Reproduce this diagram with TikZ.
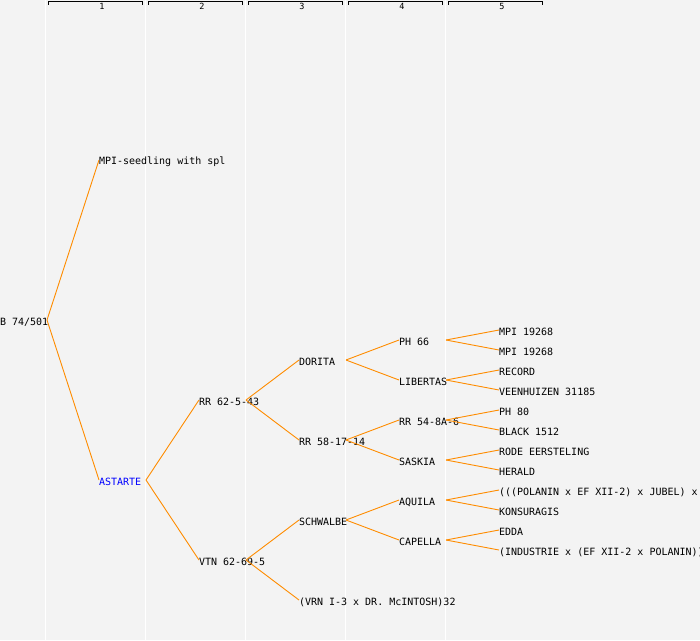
\documentclass[tikz,border=0pt]{standalone}
\usepackage{fontspec}
\setmonofont{DejaVu Sans Mono}
\definecolor{bgc}{HTML}{F3F3F3}
\definecolor{edgec}{HTML}{FF8C00}
\definecolor{bluec}{HTML}{0000FF}
\tikzset{
  lbl/.style={anchor=west, inner sep=0pt, outer sep=0pt, font=\ttfamily\fontsize{10}{12}\selectfont, text=black},
  bluelbl/.style={text=bluec},
  edge/.style={draw=edgec, line width=0.9pt},
  colline/.style={draw=white, line width=1pt},
  bracket/.style={draw=black, line width=1pt},
  colnum/.style={inner sep=0pt, font=\ttfamily\fontsize{8.5}{9}\selectfont}
}
% \pn[style]{name}{text x}{line y}{text}
\newcommand{\pn}[5][]{%
  \node[lbl,#1] (#2) at (#3,#4+2) {#5};
  \coordinate (#2-o) at (#3+47,#4);
  \coordinate (#2-i) at (#3,#4);
}
\newcommand{\lk}[2]{\draw[edge] (#1-o) -- (#2-i);}
\begin{document}
\begin{tikzpicture}[x=1pt,y=-1pt]
\useasboundingbox (0,0) rectangle (700,640);
\fill[bgc] (0,0) rectangle (700,640);
\clip (0,0) rectangle (700,640);
\foreach \k in {0,...,4} {
  \draw[colline] (45+100*\k,0) -- (45+100*\k,640);
  \draw[bracket] (48+100*\k,4.5) -- (48+100*\k,1.5) -- (142+100*\k,1.5) -- (142+100*\k,4.5);
}
\foreach \k/\t in {0/1,1/2,2/3,3/4,4/5} {
  \node[colnum] (h\t) at (102+100*\k,6.8) {\t};
}
% column 0
\pn{b}{0}{320}{B 74/501}
% column 1
\pn{mpis}{99}{160}{MPI-seedling with spl}
\pn[bluelbl]{ast}{99}{480}{ASTARTE}
% column 2
\pn{rr62}{199}{400}{RR 62-5-43}
\pn{vtn}{199}{560}{VTN 62-69-5}
% column 3
\pn{dor}{299}{360}{DORITA}
\pn{rr58}{299}{440}{RR 58-17-14}
\pn{sch}{299}{520}{SCHWALBE}
\pn{vrn}{299}{600}{(VRN I-3 x DR. McINTOSH)32}
% column 4
\pn{ph66}{399}{340}{PH 66}
\pn{lib}{399}{380}{LIBERTAS}
\pn{rr54}{399}{420}{RR 54-8A-6}
\pn{sas}{399}{460}{SASKIA}
\pn{aqu}{399}{500}{AQUILA}
\pn{cap}{399}{540}{CAPELLA}
% column 5
\pn{m1}{499}{330}{MPI 19268}
\pn{m2}{499}{350}{MPI 19268}
\pn{rec}{499}{370}{RECORD}
\pn{vee}{499}{390}{VEENHUIZEN 31185}
\pn{ph80}{499}{410}{PH 80}
\pn{bla}{499}{430}{BLACK 1512}
\pn{rode}{499}{450}{RODE EERSTELING}
\pn{her}{499}{470}{HERALD}
\pn{pol}{499}{490}{(((POLANIN x EF XII-2) x JUBEL) x}
\pn{kon}{499}{510}{KONSURAGIS}
\pn{edd}{499}{530}{EDDA}
\pn{ind}{499}{550}{(INDUSTRIE x (EF XII-2 x POLANIN))}
% connectors
\lk{b}{mpis}\lk{b}{ast}
\lk{ast}{rr62}\lk{ast}{vtn}
\lk{rr62}{dor}\lk{rr62}{rr58}
\lk{vtn}{sch}\lk{vtn}{vrn}
\lk{dor}{ph66}\lk{dor}{lib}
\lk{rr58}{rr54}\lk{rr58}{sas}
\lk{sch}{aqu}\lk{sch}{cap}
\lk{ph66}{m1}\lk{ph66}{m2}
\lk{lib}{rec}\lk{lib}{vee}
\lk{rr54}{ph80}\lk{rr54}{bla}
\lk{sas}{rode}\lk{sas}{her}
\lk{aqu}{pol}\lk{aqu}{kon}
\lk{cap}{edd}\lk{cap}{ind}
\end{tikzpicture}
\end{document}
